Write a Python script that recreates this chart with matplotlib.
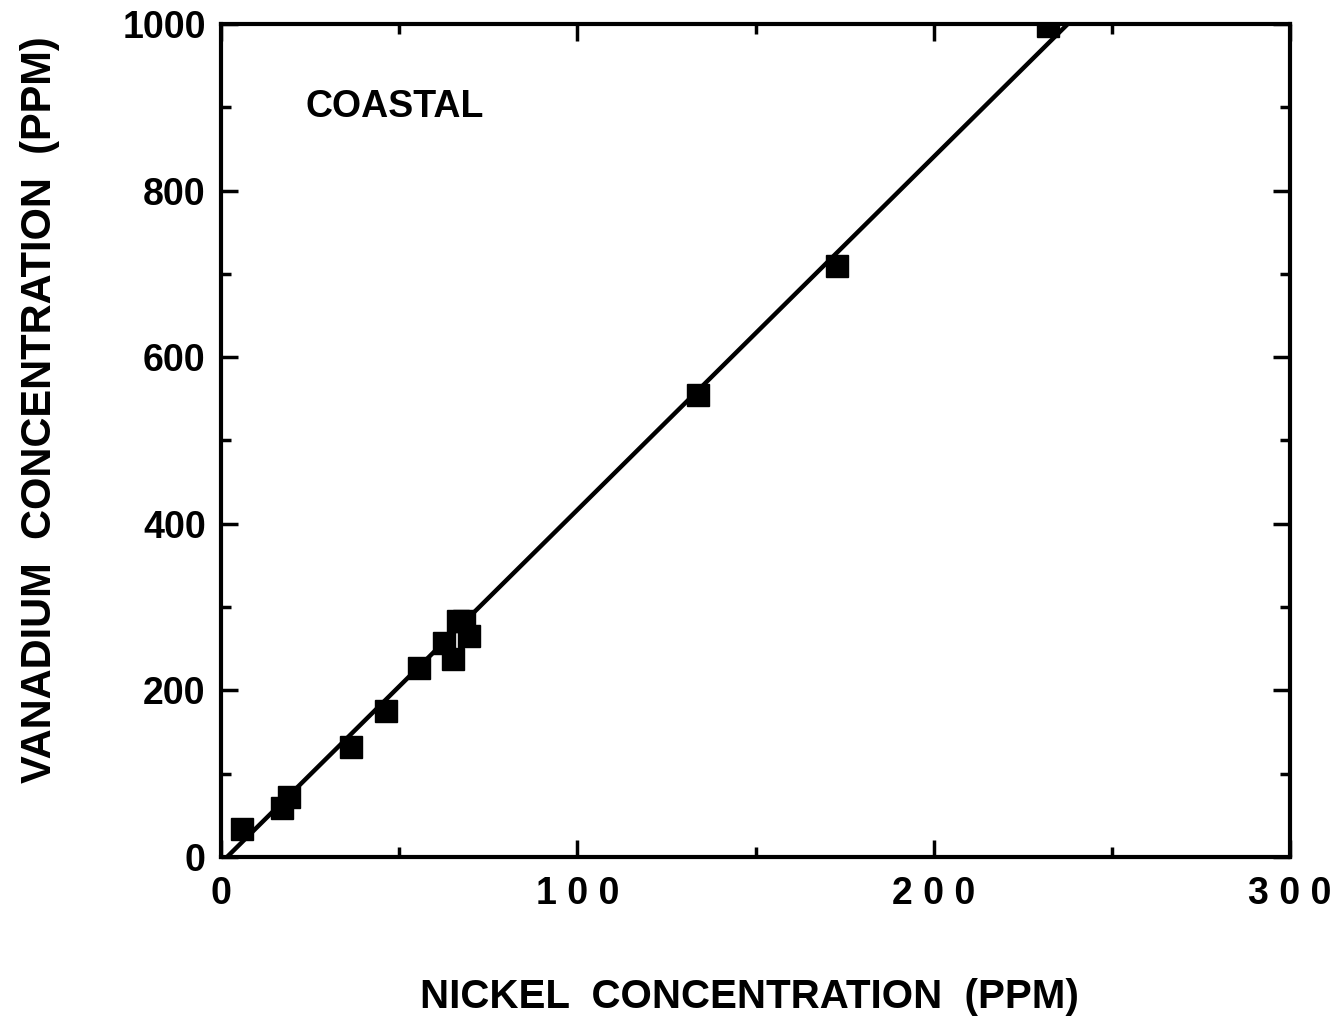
import matplotlib.pyplot as plt
import numpy as np

# nickel vs vanadium, coastal samples
nickel = [5.9, 17.1, 19.1, 36.5, 46.3, 55.6, 62.6, 65.2, 66.6, 68.3, 69.7, 134, 173, 232]
vanadium = [34, 59, 72, 132, 175, 227, 257, 238, 283, 283, 265, 555, 709, 997]

# fitted line end points
fit_x = [1.7, 240]
fit_y = [0, 1010]

x_ticks = [0, 100, 200, 300]
x_tick_labels = ['0', '1 0 0', '2 0 0', '3 0 0']
y_ticks = [0, 200, 400, 600, 800, 1000]

plt.rcParams['font.family'] = ['Liberation Sans', 'DejaVu Sans']
plt.rcParams['font.weight'] = 'bold'

fig = plt.figure(figsize=(13.36, 10.19), dpi=100)
ax = fig.add_axes([0.1654, 0.159, 0.8002, 0.8175])

ax.plot(fit_x, fit_y, color='black', linewidth=3.2, zorder=2)
ax.plot(nickel, vanadium, 's', color='black', markersize=15.5, zorder=3)

ax.set_xlim(0, 300)
ax.set_ylim(0, 1000)
ax.set_xticks(x_ticks)
ax.set_xticklabels(x_tick_labels)
ax.set_yticks(y_ticks)
ax.set_xticks(np.arange(50, 300, 100), minor=True)
ax.set_yticks(np.arange(100, 1000, 200), minor=True)

ax.tick_params(which='both', direction='in', top=True, right=True, width=2.5)
ax.tick_params(which='major', length=12, labelsize=27)
ax.tick_params(which='minor', length=7)
ax.tick_params(axis='x', pad=14)
ax.tick_params(axis='y', pad=11)
for lab in ax.get_xticklabels() + ax.get_yticklabels():
    lab.set_fontweight('bold')

for s in ax.spines.values():
    s.set_linewidth(3)

ax.set_xlabel('NICKEL  CONCENTRATION  (PPM)', fontsize=29, fontweight='bold')
ax.set_ylabel('VANADIUM  CONCENTRATION  (PPM)', fontsize=30, fontweight='bold')
ax.xaxis.set_label_coords(0.494, -0.168)
ax.xaxis.label.set_va('center')
ax.yaxis.set_label_coords(-0.169, 0.537)
ax.yaxis.label.set_va('center')

ax.text(23.6, 900, 'COASTAL', fontsize=27, fontweight='bold', va='center')

fig.savefig('out.png', dpi=100)
